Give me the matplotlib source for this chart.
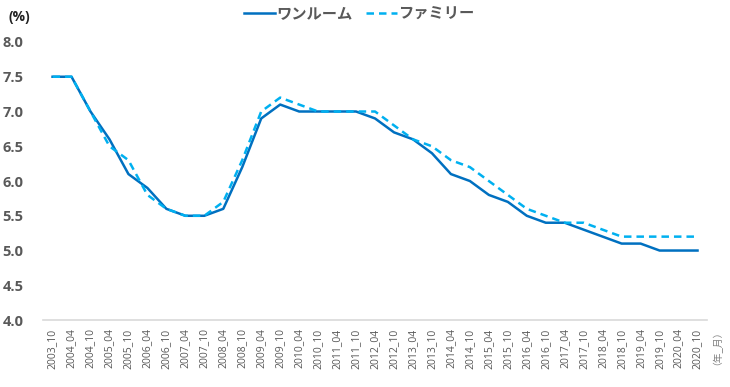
import matplotlib
matplotlib.use("Agg")
import matplotlib.pyplot as plt

plt.rcParams['font.family'] = ['Noto Sans CJK JP', 'DejaVu Sans']

# === Données ===
periodes = []
for annee in range(2003, 2021):
    for mois in ("04", "10"):
        if annee == 2003 and mois == "04":
            continue
        periodes.append(f"{annee}_{mois}")

one_room = [7.5, 7.5, 7.0, 6.6, 6.1, 5.9, 5.6, 5.5, 5.5, 5.6,
            6.2, 6.9, 7.1, 7.0, 7.0, 7.0, 7.0, 6.9, 6.7, 6.6,
            6.4, 6.1, 6.0, 5.8, 5.7, 5.5, 5.4, 5.4, 5.3, 5.2,
            5.1, 5.1, 5.0, 5.0, 5.0]
family = [7.5, 7.5, 7.0, 6.5, 6.3, 5.8, 5.6, 5.5, 5.5, 5.7,
          6.3, 7.0, 7.2, 7.1, 7.0, 7.0, 7.0, 7.0, 6.8, 6.6,
          6.5, 6.3, 6.2, 6.0, 5.8, 5.6, 5.5, 5.4, 5.4, 5.3,
          5.2, 5.2, 5.2, 5.2, 5.2]
y_ticks = [4.0, 4.5, 5.0, 5.5, 6.0, 6.5, 7.0, 7.5, 8.0]

GRIS = "#595959"

fig = plt.figure(figsize=(7.3, 3.87), dpi=100)
ax = fig.add_axes([0.059, 0.173, 0.9095, 0.7185])

x = list(range(len(periodes)))
ax.plot(x, one_room, color="#0070C0", lw=1.8, label="ワンルーム")
ax.plot(x, family, color="#00B0F0", lw=1.8, ls=(0, (3, 2)), label="ファミリー")

ax.set_xlim(-0.5, len(periodes) - 0.5)
ax.set_ylim(4.0, 8.0)
ax.set_yticks(y_ticks)
ax.set_yticklabels([f"{v:.1f}" for v in y_ticks], color=GRIS, fontsize=10.5,
                   fontweight="bold", family=["Open Sans", "DejaVu Sans"])
ax.set_xticks(x)
ax.set_xticklabels(periodes, rotation=90, fontsize=7.5, color=GRIS,
                   family=["Open Sans", "DejaVu Sans"])
ax.tick_params(axis="both", length=0, pad=6)
ax.tick_params(axis="y", pad=14)

for s in ("top", "right", "left"):
    ax.spines[s].set_visible(False)
ax.spines["bottom"].set_color("#D9D9D9")
ax.spines["bottom"].set_linewidth(1.2)

fig.text(0.012, 0.955, "(%)", fontsize=10, color="#222222", fontweight="bold",
         va="center", family=["Open Sans", "DejaVu Sans"])
fig.text(0.976, 0.115, "（年_月）", fontsize=7, color="#7F7F7F", rotation=90,
         ha="center", va="center")

fig.legend(loc="center", bbox_to_anchor=(0.492, 0.965), ncol=2, frameon=False,
           handlelength=2.0, columnspacing=0.9, handletextpad=0.1,
           labelcolor=GRIS, prop={"weight": "bold", "size": 11})

fig.savefig("out.png", dpi=100)
